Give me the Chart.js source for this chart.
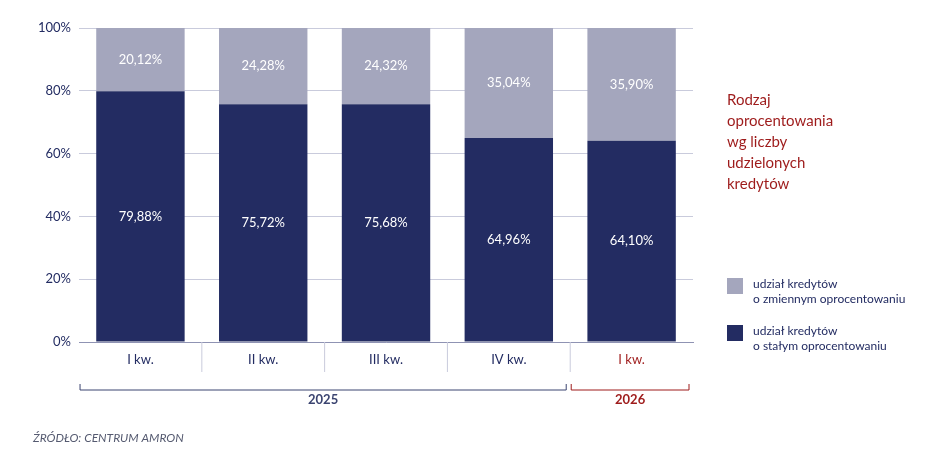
<!DOCTYPE html>
<html><head><meta charset="utf-8">
<script src="https://cdn.jsdelivr.net/npm/chart.js@4"></script>
<style>body{margin:0;background:#fff}#wrap{width:948px;height:468px}</style>
</head><body><div id="wrap"><canvas id="c"></canvas></div>
<script>
var categories = ['I kw.', 'II kw.', 'III kw.', 'IV kw.', 'I kw.'];
var fixedRate = [79.88, 75.72, 75.68, 64.96, 64.10];
var variableRate = [20.12, 24.28, 24.32, 35.04, 35.90];
var years = [{label: '2025', from: 0, to: 3, color: '#3b4470'}, {label: '2026', from: 4, to: 4, color: '#9e1b1b'}];
var navy = '#232c62', grey = '#a4a6bd', red = '#9e1b1b', font = 'Lato, "Open Sans", sans-serif';

function fmt(v) { return v.toFixed(2).replace('.', ',') + '%'; }

var extras = {
  id: 'extras',
  afterDatasetsDraw: function (chart) {
    var ctx = chart.ctx, x = chart.scales.x, y = chart.scales.y, a = chart.chartArea;
    ctx.save();
    ctx.font = '13px ' + font; ctx.textAlign = 'center'; ctx.textBaseline = 'middle'; ctx.fillStyle = '#fff';
    chart.data.datasets.forEach(function (ds, di) {
      chart.getDatasetMeta(di).data.forEach(function (bar, i) {
        ctx.fillText(fmt(ds.data[i]), bar.x, (bar.y + bar.base) / 2);
      });
    });
    // category row
    var step = x.getPixelForValue(1) - x.getPixelForValue(0);
    ctx.strokeStyle = '#c9cbdc'; ctx.lineWidth = 1;
    for (var i = 1; i < categories.length; i++) {
      var sx = x.getPixelForValue(i) - step / 2;
      ctx.beginPath(); ctx.moveTo(sx, a.bottom); ctx.lineTo(sx, a.bottom + 30); ctx.stroke();
    }
    ctx.font = '13px ' + font;
    categories.forEach(function (c, i) {
      ctx.fillStyle = i === 4 ? red : navy;
      ctx.fillText(c, x.getPixelForValue(i), a.bottom + 18);
    });
    // year brackets
    ctx.font = 'bold 13px ' + font;
    years.forEach(function (yr) {
      var l = x.getPixelForValue(yr.from) - step / 2 + 1, r = x.getPixelForValue(yr.to) + step / 2 - 4, by = a.bottom + 48;
      ctx.strokeStyle = yr.color; ctx.fillStyle = yr.color;
      ctx.beginPath(); ctx.moveTo(l, by - 6); ctx.lineTo(l, by); ctx.lineTo(r, by); ctx.lineTo(r, by - 6); ctx.stroke();
      ctx.fillText(yr.label, (l + r) / 2, by + 10);
    });
    // title
    ctx.textAlign = 'left'; ctx.fillStyle = red; ctx.font = '15px ' + font;
    ['Rodzaj', 'oprocentowania', 'wg liczby', 'udzielonych', 'kredytów'].forEach(function (t, i) {
      ctx.fillText(t, 727, 100 + i * 21);
    });
    // legend
    ctx.font = '12px ' + font; ctx.fillStyle = grey; ctx.fillRect(727, 278, 16, 16);
    ctx.fillStyle = navy; ctx.fillRect(727, 325, 16, 16);
    ctx.fillText('udział kredytów', 753, 284); ctx.fillText('o zmiennym oprocentowaniu', 753, 299);
    ctx.fillText('udział kredytów', 753, 331); ctx.fillText('o stałym oprocentowaniu', 753, 346);
    // source
    ctx.fillStyle = '#555a70'; ctx.font = 'italic 12px ' + font;
    ctx.fillText('ŹRÓDŁO: CENTRUM AMRON', 33, 438);
    ctx.restore();
  }
};

new Chart(document.getElementById('c'), {
  type: 'bar',
  data: {
    labels: categories,
    datasets: [
      {label: 'udział kredytów o stałym oprocentowaniu', data: fixedRate, backgroundColor: navy},
      {label: 'udział kredytów o zmiennym oprocentowaniu', data: variableRate, backgroundColor: grey}
    ]
  },
  options: {
    responsive: true, maintainAspectRatio: false, animation: false,
    layout: {padding: {left: 30, right: 255, top: 28, bottom: 118}},
    plugins: {legend: {display: false}, tooltip: {enabled: false}},
    scales: {
      x: {stacked: true, categoryPercentage: 1, barPercentage: 0.63, ticks: {display: false},
          grid: {display: false}, border: {color: '#8f93b3'}},
      y: {stacked: true, min: 0, max: 100,
          ticks: {stepSize: 20, callback: function (v) { return v + '%'; }, color: navy, font: {family: font, size: 13}, padding: 8},
          grid: {color: '#c9cbdc', drawTicks: false}, border: {display: false}}
    }
  },
  plugins: [extras]
});
</script></body></html>
